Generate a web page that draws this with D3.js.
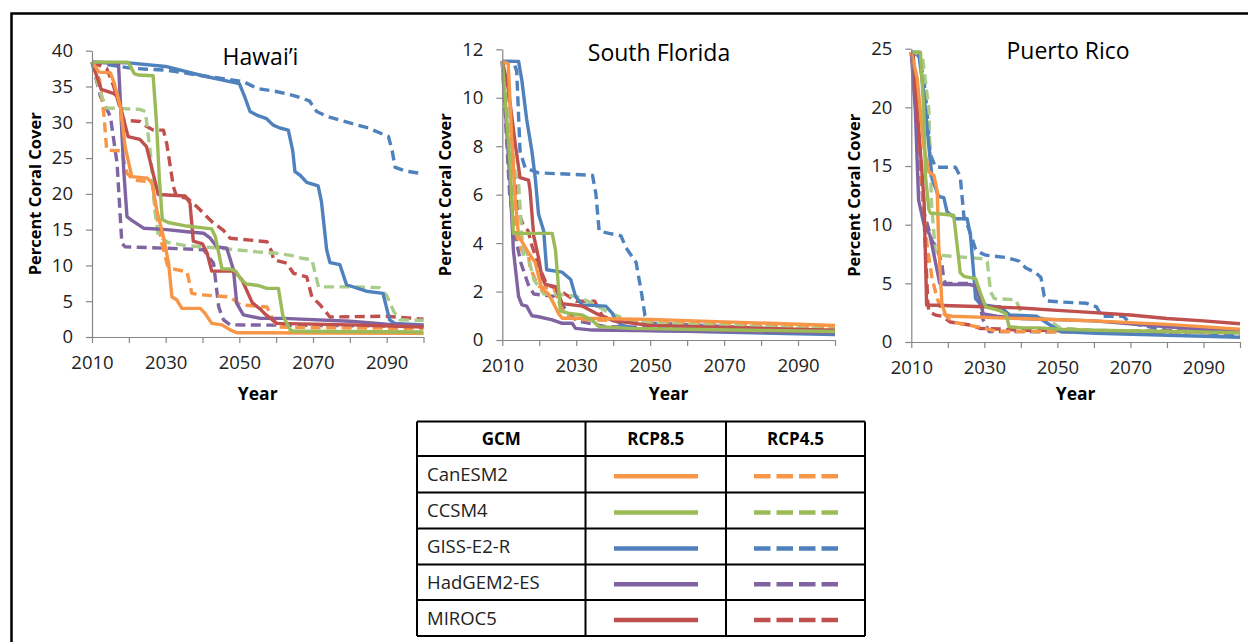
<!DOCTYPE html>
<html>
<head>
<meta charset="utf-8">
<script src="https://cdn.jsdelivr.net/npm/d3@7/dist/d3.min.js"></script>
<style>
  body { margin: 0; background: #fff; }
  svg { display: block; font-family: "Open Sans", "Liberation Sans", sans-serif; }
</style>
</head>
<body>
<script>
// models & scenarios
var models = ["CanESM2", "CCSM4", "GISS-E2-R", "HadGEM2-ES", "MIROC5"];
var scenarios = ["RCP8.5", "RCP4.5"];
var yearTicks = [2010, 2020, 2030, 2040, 2050, 2060, 2070, 2080, 2090, 2100];

// ---- Hawai'i  [year, % coral cover]
var hiCanESM2_85 = [[2010,38.4],[2012,37.0],[2015,36.9],[2016,35.5],[2017.7,32.2],[2019,26.6],[2020.8,22.4],[2025,22.2],[2026.3,21.5],[2027.6,17.7],[2029.4,14],[2030.8,10.3],[2031.7,5.6],[2033,5.2],[2034.4,4.0],[2039.4,4.0],[2040.7,3.3],[2042.5,1.9],[2045.3,1.7],[2047.5,1.0],[2049.3,0.6],[2100,0.5]];
var hiCanESM2_45 = [[2010,38.4],[2012,36],[2013.2,31.2],[2014,26.1],[2018,26.0],[2019.5,22.9],[2021.3,21.9],[2026.3,21.7],[2027.5,17],[2029,13],[2030.5,10],[2031.2,9.6],[2035.8,9.1],[2037.1,6.1],[2039.4,5.9],[2047.5,5.6],[2050.2,4.5],[2057.5,4.2],[2058.8,2.8],[2060.2,1.4],[2070,1.3],[2100,1.2]];
var hiCCSM4_85 = [[2010,38.4],[2019.8,38.4],[2021.5,36.8],[2022.5,36.6],[2026.6,36.5],[2027.5,30],[2028.3,22],[2029.1,16.4],[2030.7,16.0],[2035.7,15.5],[2042.5,15.1],[2043.5,14],[2045.3,9.5],[2047.5,9.5],[2049,9.2],[2050.5,8],[2052,7.4],[2055,7.2],[2057.5,6.8],[2060.6,6.8],[2061.8,3],[2063.8,1.0],[2065,0.8],[2100,0.7]];
var hiCCSM4_45 = [[2010,38.4],[2012,34.5],[2013.9,32.0],[2023,31.8],[2024.5,31.5],[2026,25],[2027,18],[2028,14.1],[2030.7,13.2],[2035,12.8],[2040,12.6],[2044.8,12.4],[2054.8,11.9],[2060,11.7],[2064,11.4],[2067,11.0],[2069.7,10.8],[2071.5,7.0],[2080,7.0],[2088,6.9],[2090,5.8],[2092,3.5],[2093.6,2.4],[2100,2.3]];
var hiGISS_85 = [[2010,38.4],[2020,38.3],[2030,37.8],[2040,36.5],[2050,35.4],[2051.5,33.5],[2052.9,31.5],[2054.7,31.0],[2057.4,30.5],[2059.2,29.6],[2061,29.2],[2063.3,28.9],[2064.5,26],[2065.1,23.1],[2066.5,22.6],[2068.3,21.6],[2071.4,21.1],[2072.3,18.9],[2073.7,12.2],[2074.6,10.4],[2077.3,10.1],[2079.1,7.3],[2084.5,6.4],[2089,6.1],[2090.8,2.4],[2092.2,1.9],[2100,1.7]];
var hiGISS_45 = [[2010,38.4],[2015,38.0],[2020,37.6],[2025,37.4],[2030,37.3],[2040,36.5],[2051,35.7],[2055,34.7],[2060,34.3],[2065,33.7],[2069,33.0],[2071,31.5],[2074,30.8],[2080,29.9],[2085,29.2],[2090.5,28.0],[2091.5,26.0],[2092.3,23.7],[2095,23.2],[2100,22.8]];
var hiHadGEM2_85 = [[2010,38.4],[2017.2,38.2],[2018.6,23.4],[2019.5,16.8],[2020.8,16.3],[2024,15.2],[2030.3,15.0],[2035.8,14.7],[2040.3,14.5],[2042.1,13.8],[2043.9,12.6],[2046.6,12.4],[2048.4,9.4],[2049.3,4.7],[2051.1,3.1],[2055.7,2.6],[2062,2.6],[2080,2.2],[2090,1.8],[2100,1.6]];
var hiHadGEM2_45 = [[2010,38.4],[2012.3,33.6],[2015,30.8],[2016.8,24.3],[2018.1,13.1],[2019,12.6],[2030.3,12.4],[2040.3,12.2],[2043,10.3],[2044.4,4.2],[2045.7,2.4],[2047.5,1.7],[2100,1.5]];
var hiMIROC5_85 = [[2010,38.4],[2012.5,34.6],[2016,34.0],[2017.1,33.4],[2019.8,28.0],[2023,27.6],[2024.8,26.6],[2028,19.9],[2035.3,19.7],[2036.6,18.7],[2037.5,13.4],[2040,13.0],[2041.2,11.8],[2042.5,9.2],[2048,9.2],[2049,9.0],[2050.7,8.0],[2053.5,4.8],[2055.7,3.9],[2057,3.2],[2060.2,1.9],[2080,1.7],[2100,1.4]];
var hiMIROC5_45 = [[2010,38.4],[2014,37.5],[2015.9,35],[2018.6,30.3],[2023.1,30.1],[2024.9,29.4],[2026.7,28.9],[2029.4,28.9],[2030.3,27],[2032.1,21],[2033,19.6],[2035.8,19.4],[2038.5,18.2],[2041.2,16.8],[2043,15.9],[2045.7,14.9],[2047.5,13.8],[2053.8,13.5],[2057.5,13.3],[2058.8,11.9],[2059.3,10.8],[2062.9,10.3],[2064.7,8.9],[2068.3,8.4],[2069.7,5.6],[2071.9,4.5],[2074.6,2.8],[2090,2.9],[2100,2.5]];

// ---- South Florida
var sfCanESM2_85 = [[2010,11.5],[2011.6,11.4],[2012.5,8.5],[2013.5,5.8],[2014.4,4.3],[2017.1,3.6],[2018.9,3.2],[2020.7,2.1],[2022.5,1.9],[2023.9,1.5],[2025.2,1.1],[2026.2,0.9],[2030,0.9],[2050,0.85],[2070,0.75],[2100,0.6]];
var sfCanESM2_45 = [[2010,11.5],[2012,7.0],[2013.5,4.5],[2015.3,3.7],[2017,3.6],[2017.5,3.0],[2018.9,2.5],[2020,2.2],[2024,2.1],[2025.5,1.5],[2027,1.0],[2030,0.85],[2050,0.75],[2100,0.5]];
var sfCCSM4_85 = [[2010,11.5],[2012,7.5],[2013,4.4],[2023.5,4.4],[2024.4,3.7],[2025.7,1.2],[2028,1.1],[2031.6,1.03],[2034.4,0.8],[2036.2,0.55],[2044.4,0.48],[2100,0.35]];
var sfCCSM4_45 = [[2010,11.5],[2012,8.5],[2013.5,6.9],[2014.4,6.5],[2015.3,4.3],[2015.7,3.4],[2016.6,3.7],[2018.5,2.5],[2021.2,1.9],[2025,1.9],[2030.1,1.8],[2034.6,1.5],[2039.1,1.1],[2041.8,0.96],[2043.6,0.83],[2050,0.7],[2100,0.45]];
var sfGISS_85 = [[2010,11.5],[2014.4,11.5],[2015.3,10.7],[2016.6,9.1],[2018,7.8],[2018.9,6.7],[2019.8,5.2],[2021.2,4.5],[2022,2.9],[2026.2,2.8],[2028.5,2.5],[2029.8,1.8],[2031.6,1.45],[2038,1.4],[2039.8,1.1],[2040.7,0.8],[2042.5,0.6],[2048,0.4],[2100,0.22]];
var sfGISS_45 = [[2010,11.5],[2013,11.5],[2013.9,11.1],[2014.8,7.8],[2016.2,7.1],[2019.8,6.9],[2034.4,6.8],[2035.3,6.05],[2036.2,4.5],[2038.9,4.4],[2042.1,4.3],[2043.5,3.8],[2046.2,3.2],[2047.7,1.9],[2048.6,1.0],[2050,0.7],[2100,0.35]];
var sfHadGEM2_85 = [[2010,11.5],[2012.1,6.5],[2013,3.7],[2014.4,1.8],[2015.3,1.45],[2016.6,1.4],[2018,1.0],[2019.8,0.96],[2023.5,0.83],[2026.2,0.69],[2028.9,0.69],[2029.8,0.48],[2034.4,0.41],[2100,0.3]];
var sfHadGEM2_45 = [[2010,11.5],[2012,6],[2013.5,4.3],[2015,3.2],[2017,2.3],[2018.5,1.9],[2024,1.8],[2027,1.3],[2030,0.8],[2038,0.55],[2100,0.4]];
var sfMIROC5_85 = [[2010,11.5],[2011.5,10.5],[2013.5,8.1],[2014.8,6.7],[2017.1,6.6],[2017.5,6.2],[2018.5,4.3],[2019.8,3.4],[2020.7,2.6],[2021.6,2.3],[2024.4,2.2],[2026.2,1.5],[2031.6,1.4],[2035.3,1.1],[2040,0.8],[2050,0.6],[2100,0.4]];
var sfMIROC5_45 = [[2010,11.5],[2012,9],[2014,5.5],[2015.5,4.8],[2017,4.5],[2018,3.9],[2020,3.0],[2022,2.3],[2025,2.1],[2030,1.6],[2035,1.6],[2037,1.0],[2040,0.8],[2100,0.55]];

// ---- Puerto Rico
var prCanESM2_85 = [[2010,24.7],[2011.6,22.5],[2013.4,16.7],[2014.8,14.5],[2016.2,14.2],[2017.1,12.8],[2017.5,8.3],[2018.4,3.2],[2019.4,2.3],[2021.2,2.2],[2030,2.1],[2040,2.0],[2060,1.8],[2080,1.5],[2100,1.1]];
var prCanESM2_45 = [[2010,24.7],[2012,18],[2013.3,12],[2014.3,8.3],[2015.7,5.4],[2017.1,3.7],[2018.4,2.6],[2021.2,1.7],[2023,1.6],[2029.7,1.2],[2033.4,0.9],[2100,0.8]];
var prCCSM4_85 = [[2010,24.7],[2012.5,24.7],[2013.4,19.8],[2013.9,14.1],[2014.8,11.3],[2015.2,11.0],[2021.6,10.8],[2022.5,8.4],[2023.4,5.9],[2024.4,5.6],[2027.6,5.4],[2029,4.1],[2030.4,3.0],[2034,2.7],[2035.9,2.4],[2036.8,1.3],[2040.5,1.2],[2045,1.2],[2050,1.1],[2060,1.0],[2100,0.8]];
var prCCSM4_45 = [[2010,24.7],[2013,24.5],[2014.8,19.8],[2015.5,12],[2016.6,7.6],[2017.5,7.4],[2029.5,7.1],[2030.8,6.85],[2031.7,4.3],[2032.7,3.7],[2038.6,3.6],[2040,2.6],[2040.7,2.2],[2046.1,2.0],[2048.8,1.6],[2050.7,1.2],[2060,1.0],[2100,0.8]];
var prGISS_85 = [[2010,24.7],[2012,24.7],[2013.5,21],[2014.8,16.7],[2015.7,13.9],[2017.5,12.4],[2018.9,12.3],[2019.8,11.1],[2022.1,10.5],[2025.3,10.5],[2026.2,9.1],[2027.2,5.4],[2027.6,3.7],[2029,3.2],[2033.1,3.0],[2034.3,3.0],[2037,2.3],[2044.3,2.2],[2048,1.45],[2050.7,0.9],[2060.7,0.75],[2100,0.4]];
var prGISS_45 = [[2010,24.7],[2012,24.4],[2013.4,22.5],[2014.3,19.7],[2015.2,16.0],[2016.6,14.9],[2022.1,14.9],[2023.4,14.1],[2024.4,10.7],[2025.8,9.6],[2027.6,7.9],[2029,7.6],[2030.4,7.4],[2035.9,7.2],[2039.5,6.9],[2041.4,6.3],[2044.1,5.9],[2045.5,5.5],[2046.4,3.9],[2047.3,3.5],[2051.6,3.4],[2058,3.3],[2060.7,3.0],[2062.1,2.2],[2068,2.2],[2070,1.6],[2080,1.0],[2100,0.6]];
var prHadGEM2_85 = [[2010,24.7],[2011.1,19.8],[2012,12.1],[2013.4,10.1],[2015.1,9.1],[2017.8,5.0],[2019.2,4.9],[2026,4.9],[2027.9,4.75],[2029.7,2.4],[2033.4,2.2],[2040,2.0],[2060,1.8],[2080,1.3],[2100,0.9]];
var prHadGEM2_45 = [[2010,24.7],[2012,16.7],[2013.4,11.1],[2015.7,8.6],[2017.1,8.0],[2018.4,6.6],[2018.9,5.3],[2019.4,5.0],[2026.7,5.0],[2028,4.85],[2029.5,2.0],[2031.3,0.9],[2100,0.8]];
var prMIROC5_85 = [[2010,24.7],[2010.5,24.5],[2013.5,12],[2014.2,3.15],[2030,3.0],[2040,2.9],[2050,2.7],[2060,2.5],[2070,2.3],[2080,2.0],[2090,1.8],[2100,1.55]];
var prMIROC5_45 = [[2010,24.7],[2013,14],[2014.5,3.5],[2014.8,2.6],[2016.6,2.3],[2018.4,2.2],[2020.7,1.7],[2023,1.6],[2026,1.45],[2028.8,1.15],[2035,1.1],[2040,1.0],[2100,0.9]];

// styles
var colors = { "CanESM2": "#f79646", "CCSM4": "#9bbb59", "GISS-E2-R": "#4f81bd", "HadGEM2-ES": "#8064a2", "MIROC5": "#c0504d" };
var dashColors = { "CanESM2": "#f79646", "CCSM4": "#a9cc8a", "GISS-E2-R": "#4f81bd", "HadGEM2-ES": "#8064a2", "MIROC5": "#c0504d" };

var panels = [
  { title: "Hawai\u2019i", titleX: 260.5, titleY: 65, yMax: 40, yStep: 5, x0: 92, x1: 423.5, y0: 337, y1: 50.7,
    rcp85: [hiCanESM2_85, hiCCSM4_85, hiGISS_85, hiHadGEM2_85, hiMIROC5_85],
    rcp45: [hiCanESM2_45, hiCCSM4_45, hiGISS_45, hiHadGEM2_45, hiMIROC5_45] },
  { title: "South Florida", titleX: 659, titleY: 61, yMax: 12, yStep: 2, x0: 502.3, x1: 835, y0: 340, y1: 49.3,
    rcp85: [sfCanESM2_85, sfCCSM4_85, sfGISS_85, sfHadGEM2_85, sfMIROC5_85],
    rcp45: [sfCanESM2_45, sfCCSM4_45, sfGISS_45, sfHadGEM2_45, sfMIROC5_45] },
  { title: "Puerto Rico", titleX: 1068, titleY: 58.5, yMax: 25, yStep: 5, x0: 911.3, x1: 1240, y0: 342, y1: 48.7,
    rcp85: [prCanESM2_85, prCCSM4_85, prGISS_85, prHadGEM2_85, prMIROC5_85],
    rcp45: [prCanESM2_45, prCCSM4_45, prGISS_45, prHadGEM2_45, prMIROC5_45] }
];

var svg = d3.select("body").append("svg")
  .attr("width", 1248)
  .attr("height", 642);

// outer frame (top + left only visible)
svg.append("path")
  .attr("d", "M1248,13.5 H11.5 V642")
  .attr("fill", "none")
  .attr("stroke", "#000")
  .attr("stroke-width", 2.5);

panels.forEach(function(p) {
  var x = d3.scaleLinear().domain([2010, 2100]).range([p.x0, p.x1]);
  var y = d3.scaleLinear().domain([0, p.yMax]).range([p.y0, p.y1]);
  var g = svg.append("g");

  var line = d3.line()
    .x(function(d) { return x(d[0]); })
    .y(function(d) { return y(d[1]); });

  // dashed RCP4.5 first, then solid RCP8.5 on top
  var order = [2, 3, 4, 0, 1];
  order.forEach(function(i) {
    g.append("path")
      .datum(p.rcp45[i])
      .attr("d", line)
      .attr("fill", "none")
      .attr("stroke", dashColors[models[i]])
      .attr("stroke-width", 3.4)
      .attr("stroke-dasharray", "10,5.5")
      .attr("stroke-linejoin", "round");
  });
  order.forEach(function(i) {
    g.append("path")
      .datum(p.rcp85[i])
      .attr("d", line)
      .attr("fill", "none")
      .attr("stroke", colors[models[i]])
      .attr("stroke-width", 3.4)
      .attr("stroke-linejoin", "round");
  });

  // axes
  var yAxis = d3.axisLeft(y)
    .tickValues(d3.range(0, p.yMax + 0.01, p.yStep))
    .tickSize(6).tickSizeOuter(0).tickPadding(13);
  var xAxis = d3.axisBottom(x)
    .tickValues(yearTicks)
    .tickFormat(function(d) { return (d - 2010) % 20 === 0 && d < 2100 ? d : ""; })
    .tickSize(6).tickSizeOuter(0).tickPadding(13);

  var ya = svg.append("g").attr("transform", "translate(" + p.x0 + ",0)").call(yAxis);
  var xa = svg.append("g").attr("transform", "translate(0," + p.y0 + ")").call(xAxis);
  [ya, xa].forEach(function(a) {
    a.selectAll("path, line").attr("stroke", "#868686").attr("stroke-width", 1.2);
    a.selectAll("text").attr("fill", "#222").style("font-size", "18.5px")
      .style("font-family", "'Open Sans', sans-serif");
  });

  // title
  svg.append("text")
    .attr("x", p.titleX)
    .attr("y", p.titleY)
    .attr("text-anchor", "middle")
    .style("font-size", "23px")
    .attr("fill", "#000")
    .text(p.title);

  // axis titles
  svg.append("text")
    .attr("transform", "translate(" + (p.x0 - 51) + "," + ((p.y0 + p.y1) / 2) + ") rotate(-90)")
    .attr("text-anchor", "middle")
    .style("font-size", "16.5px")
    .style("font-weight", "bold")
    .text("Percent Coral Cover");

  svg.append("text")
    .attr("x", (p.x0 + p.x1) / 2)
    .attr("y", 400)
    .attr("text-anchor", "middle")
    .style("font-size", "17.5px")
    .style("font-weight", "bold")
    .text("Year");
});

// legend table
var tblX = [417, 585.5, 726, 865];
var tblY = [421.5, 456, 492.5, 528.5, 564.5, 600, 636];
var tbl = svg.append("g");

tbl.selectAll("line.h").data(tblY).enter().append("line")
  .attr("x1", tblX[0]).attr("x2", tblX[3])
  .attr("y1", function(d) { return d; }).attr("y2", function(d) { return d; })
  .attr("stroke", "#000").attr("stroke-width", 2);
tbl.selectAll("line.v").data(tblX).enter().append("line")
  .attr("x1", function(d) { return d; }).attr("x2", function(d) { return d; })
  .attr("y1", tblY[0]).attr("y2", tblY[tblY.length - 1])
  .attr("stroke", "#000").attr("stroke-width", 2);

var headers = ["GCM"].concat(scenarios);
headers.forEach(function(h, i) {
  tbl.append("text")
    .attr("x", (tblX[i] + tblX[i + 1]) / 2)
    .attr("y", (tblY[0] + tblY[1]) / 2 + 6)
    .attr("text-anchor", "middle")
    .style("font-size", "17px")
    .style("font-weight", "bold")
    .text(h);
});

models.forEach(function(m, i) {
  var cy = (tblY[i + 1] + tblY[i + 2]) / 2;
  tbl.append("text")
    .attr("x", 427)
    .attr("y", cy + 6.5)
    .style("font-size", "18.5px")
    .attr("fill", "#222")
    .text(m);
  tbl.append("line")
    .attr("x1", 614).attr("x2", 698)
    .attr("y1", cy + 2).attr("y2", cy + 2)
    .attr("stroke", colors[m]).attr("stroke-width", 4.5);
  tbl.append("line")
    .attr("x1", 754).attr("x2", 838)
    .attr("y1", cy + 2).attr("y2", cy + 2)
    .attr("stroke", colors[m]).attr("stroke-width", 4.5)
    .attr("stroke-dasharray", "16.5,6");
});
</script>
</body>
</html>
